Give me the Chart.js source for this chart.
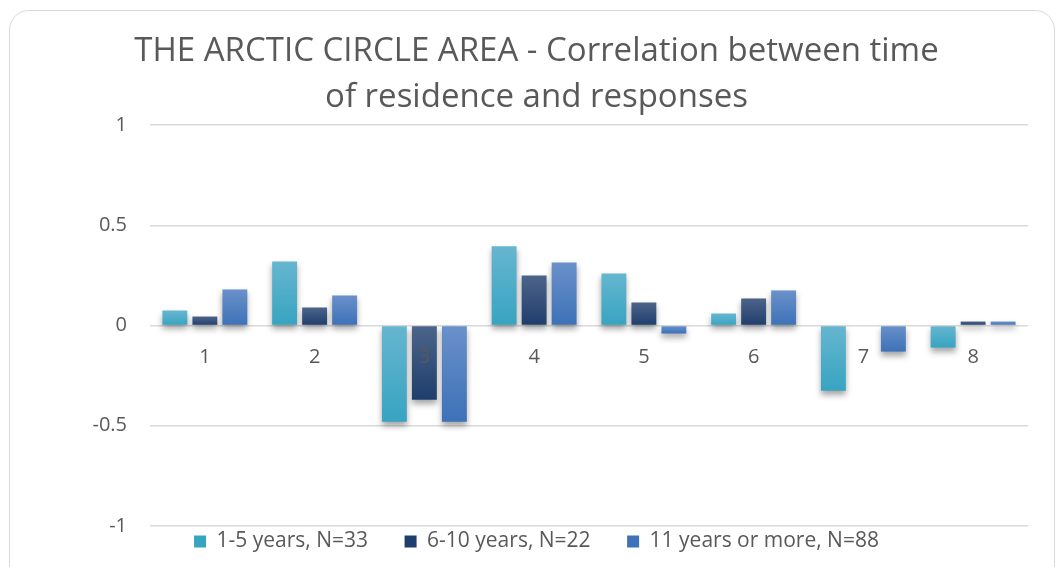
<!DOCTYPE html>
<html>
<head>
<meta charset="utf-8">
<script src="https://cdn.jsdelivr.net/npm/chart.js@4/dist/chart.umd.min.js"></script>
<style>
  html,body{margin:0;padding:0;background:#fff;}
  #frame{position:absolute;left:9px;top:10px;width:1046px;height:600px;border:1px solid #d9d9d9;border-radius:20px;box-sizing:border-box;}
  #wrap{position:absolute;left:0;top:0;width:1061px;height:567px;}
</style>
</head>
<body>
<div id="frame"></div>
<div id="wrap"><canvas id="c"></canvas></div>
<script>
const categories = ["1","2","3","4","5","6","7","8"];
const seriesNames = ["1-5 years, N=33","6-10 years, N=22","11 years or more, N=88"];
const years1to5 = [0.075, 0.32, -0.48, 0.395, 0.26, 0.06, -0.325, -0.11];
const years6to10 = [0.045, 0.09, -0.37, 0.25, 0.115, 0.135, 0.0, 0.02];
const years11plus = [0.18, 0.15, -0.48, 0.315, -0.04, 0.175, -0.13, 0.02];
const yTicks = [1, 0.5, 0, -0.5, -1];
const titleLines = ["THE ARCTIC CIRCLE AREA - Correlation between time", "of residence and responses"];

const palette = [
  ["#66b6cf", "#37a4c1"],
  ["#4c6489", "#1f3e6d"],
  ["#6a91ca", "#3d71b8"]
];
const FONT = "'Open Sans', Lato, sans-serif";
const GREY = '#595959';

function gradFor(colors){
  return function(ctx){
    const chart = ctx.chart;
    if (!chart.chartArea || ctx.type !== 'data' || !chart.scales.y) return colors[1];
    const y = chart.scales.y;
    const p = y.getPixelForValue(ctx.raw), z = y.getPixelForValue(0);
    const top = Math.min(p, z), bot = Math.max(p, z);
    if (bot - top < 1) return colors[1];
    const g = chart.ctx.createLinearGradient(0, top, 0, bot);
    g.addColorStop(0, colors[0]);
    g.addColorStop(1, colors[1]);
    return g;
  };
}

const shadowPlugin = {
  id: 'barShadow',
  beforeDatasetsDraw(chart){
    const c = chart.ctx;
    c.save();
    c.shadowColor = 'rgba(0,0,0,0.35)';
    c.shadowBlur = 6;
    c.shadowOffsetY = 4;
  },
  afterDatasetsDraw(chart){
    chart.ctx.restore();
  }
};

const data = {
  labels: categories,
  datasets: [years1to5, years6to10, years11plus].map((vals, i) => ({
    label: seriesNames[i],
    data: vals,
    backgroundColor: gradFor(palette[i]),
    borderWidth: 0,
    categoryPercentage: 0.82,
    barPercentage: 0.83,
    yAxisID: 'y'
  }))
};

new Chart(document.getElementById('c'), {
  type: 'bar',
  data,
  plugins: [shadowPlugin],
  options: {
    responsive: true,
    maintainAspectRatio: false,
    animation: false,
    layout: { padding: { left: 12, right: 0, top: 0, bottom: 5 } },
    plugins: {
      title: {
        display: true,
        text: titleLines,
        color: GREY,
        font: { family: FONT, size: 33, weight: 'normal', lineHeight: 1.38 },
        padding: { top: 29, bottom: 5 }
      },
      legend: {
        position: 'bottom',
        labels: {
          color: GREY,
          font: { family: FONT, size: 21 },
          boxWidth: 12,
          boxHeight: 12,
          padding: 5,
          generateLabels(chart){
            const n = chart.data.datasets.length;
            return chart.data.datasets.map((ds, i) => ({
              text: i < n - 1 ? ds.label + '\u2003\u2002' : ds.label,
              fillStyle: palette[i][1],
              strokeStyle: palette[i][1],
              lineWidth: 0,
              hidden: false,
              datasetIndex: i,
              fontColor: GREY
            }));
          }
        }
      },
      tooltip: { enabled: false }
    },
    scales: {
      x: {
        position: { y: 0 },
        grid: { display: false },
        border: { display: false },
        ticks: { z: 1, color: GREY, font: { family: FONT, size: 20 }, padding: 12 }
      },
      y: {
        position: 'left',
        min: -1,
        max: 1,
        afterBuildTicks(scale){ scale.ticks = yTicks.map(v => ({ value: v })); },
        afterFit(scale){ scale.width = 138; },
        grid: { color: '#d9d9d9', lineWidth: 1.5, drawTicks: false },
        border: { display: false },
        ticks: { color: GREY, font: { family: FONT, size: 20 }, padding: 23, callback: v => String(v) }
      },
      yRight: {
        position: 'right',
        min: -1,
        max: 1,
        afterFit(scale){ scale.width = 33; },
        grid: { display: false, drawTicks: false },
        border: { display: false },
        ticks: { display: false }
      }
    }
  }
});
</script>
</body>
</html>
